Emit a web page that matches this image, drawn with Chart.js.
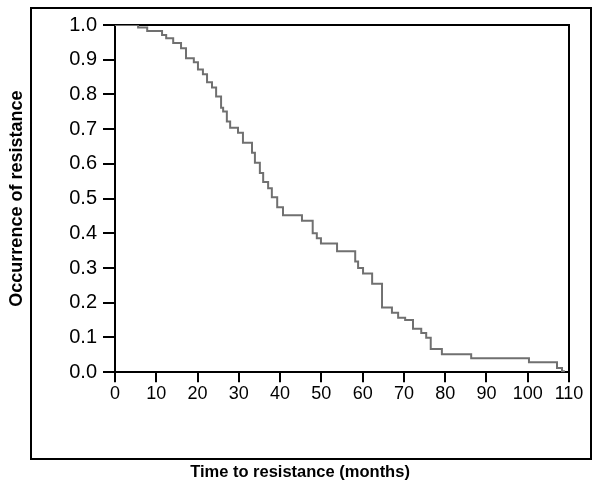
<!DOCTYPE html>
<html>
<head>
<meta charset="utf-8">
<script src="https://cdn.jsdelivr.net/npm/chart.js@4/dist/chart.umd.min.js"></script>
<style>
  body { margin: 0; background: #fff; }
  canvas { display: block; }
</style>
</head>
<body>
<canvas id="chartResistencia" width="600" height="483"></canvas>
<script>
// Tiempo (meses) en que cae la curva y valor después de cada escalón
const months = [0, 5.6, 7.8, 11.4, 12.4, 14.1, 16.0, 17.2, 19.1, 20.1, 21.3, 22.3, 23.5, 24.5, 25.7,
  26.2, 27.1, 27.9, 29.8, 31.0, 33.2, 33.9, 35.1, 35.9, 37.1, 38.0, 39.3, 40.7, 45.3, 47.9,
  48.9, 49.9, 53.8, 58.2, 58.9, 60.1, 62.3, 64.7, 67.1, 68.6, 70.3, 72.2, 74.2, 75.4, 76.5,
  79.2, 86.3, 100.3, 107.1, 108.3, 109.0];
const occurrence = [1.0, 0.993, 0.983, 0.971, 0.962, 0.948, 0.933, 0.904, 0.893, 0.872, 0.858, 0.835, 0.820, 0.794, 0.762,
  0.751, 0.722, 0.704, 0.690, 0.661, 0.632, 0.603, 0.574, 0.548, 0.530, 0.504, 0.475, 0.452, 0.436, 0.400,
  0.386, 0.371, 0.348, 0.319, 0.300, 0.284, 0.255, 0.186, 0.171, 0.157, 0.150, 0.125, 0.113, 0.099, 0.067,
  0.052, 0.040, 0.029, 0.012, 0.003, 0.003];

// Marcas de los ejes
const xTicks = [0, 10, 20, 30, 40, 50, 60, 70, 80, 90, 100, 110];
const yTicks = [0, 0.1, 0.2, 0.3, 0.4, 0.5, 0.6, 0.7, 0.8, 0.9, 1.0];

const points = months.map((m, i) => ({ x: m, y: occurrence[i] }));

// Recuadro exterior
const boxPlugin = {
  id: 'outerBox',
  afterDraw(chart) {
    const ctx = chart.ctx;
    ctx.save();
    ctx.strokeStyle = '#000';
    ctx.lineWidth = 2;
    ctx.strokeRect(31, 8, 560, 451);
    ctx.restore();
  }
};

const family = 'Liberation Sans, Arial, sans-serif';

// Ejes vacíos arriba y a la derecha para cerrar el marco
const frameAxis = (pos, fit) => ({
  type: 'linear',
  position: pos,
  min: 0,
  max: 1,
  z: 1,
  afterFit: fit,
  border: { color: '#000', width: 2 },
  grid: { drawOnChartArea: false, drawTicks: false },
  ticks: { display: false }
});

const chart = new Chart(document.getElementById('chartResistencia'), {
  type: 'line',
  data: {
    datasets: [{
      data: points,
      stepped: 'before',
      borderColor: '#707070',
      borderWidth: 2,
      pointRadius: 0,
      fill: false
    }]
  },
  options: {
    responsive: false,
    animation: false,
    layout: { padding: 0 },
    plugins: {
      legend: { display: false },
      tooltip: { enabled: false },
      title: {
        display: true,
        position: 'bottom',
        text: 'Time to resistance (months)',
        color: '#000',
        font: { family: family, size: 16.5, weight: 'bold' },
        padding: { top: 0, bottom: 1 }
      }
    },
    scales: {
      x: {
        type: 'linear',
        min: 0,
        max: 110,
        z: 1,
        afterBuildTicks: s => { s.ticks = xTicks.map(v => ({ value: v })); },
        afterFit: s => { s.height = 90; },
        border: { color: '#000', width: 2 },
        grid: { drawOnChartArea: false, tickLength: 10, color: '#000', lineWidth: 2 },
        ticks: { color: '#000', font: { family: family, size: 18 }, padding: 1, maxRotation: 0 }
      },
      x2: frameAxis('top', s => { s.height = 25; }),
      y: {
        type: 'linear',
        min: 0,
        max: 1,
        z: 1,
        afterBuildTicks: s => { s.ticks = yTicks.map(v => ({ value: v })); },
        afterFit: s => { s.width = 115; },
        border: { color: '#000', width: 2 },
        grid: { drawOnChartArea: false, tickLength: 12, color: '#000', lineWidth: 2 },
        ticks: { color: '#000', font: { family: family, size: 20 }, padding: 6, callback: v => v.toFixed(1) },
        title: {
          display: true,
          text: 'Occurrence of resistance',
          color: '#000',
          font: { family: family, size: 18, weight: 'bold' },
          padding: { top: 6, bottom: 0 }
        }
      },
      y2: frameAxis('right', s => { s.width = 31; })
    }
  },
  plugins: [boxPlugin]
});
</script>
</body>
</html>
